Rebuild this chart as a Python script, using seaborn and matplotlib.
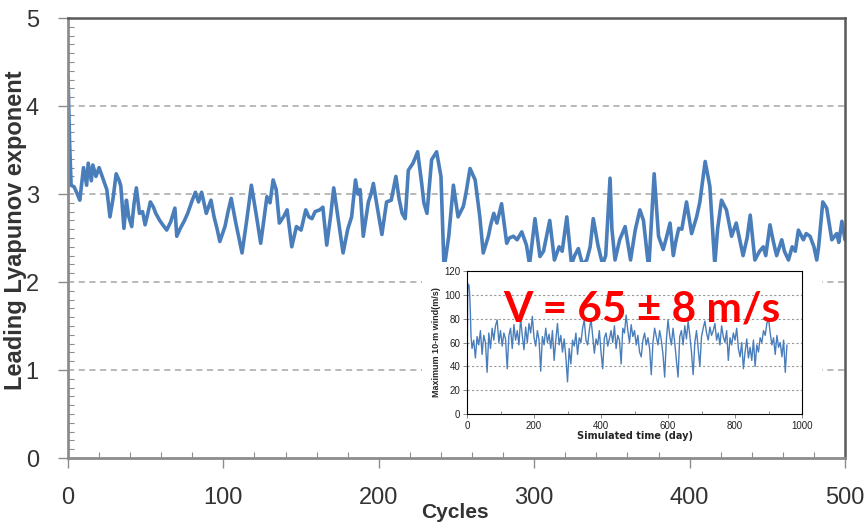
import numpy as np
import pandas as pd
import seaborn as sns
import matplotlib
matplotlib.use('Agg')
import matplotlib.pyplot as plt
from matplotlib.patches import Rectangle
from matplotlib.ticker import MultipleLocator

# main series: leading Lyapunov exponent vs cycles
cycles = [0, 1, 2, 4, 6, 7.6, 9, 10, 12, 13, 15, 16, 18, 20, 22, 25, 27, 29, 31, 33,
          34, 36, 37.6, 39, 41, 42.5, 44, 46, 48, 49.6, 51, 53, 55, 56.5, 59, 61, 63.5, 66, 68.8, 70,
          72, 75, 77, 80, 82, 84, 86, 89, 92, 94, 96, 97.7, 101, 103, 105, 108, 110, 112, 115, 118,
          121, 124, 126, 128, 130, 132, 134, 136, 139, 141, 144, 147, 150, 153, 155, 157, 159, 162, 164, 166.5,
          169, 171, 174, 177, 180, 182.5, 185, 186.5, 188, 190, 193.3, 195, 196.5, 199, 202, 205, 208, 211, 213, 215,
          217, 219, 222, 225, 227.6, 229, 231, 234, 237.2, 240, 242, 245, 248, 251, 254.4, 256, 258.7, 262, 265, 267.2,
          270.5, 272, 274, 276, 279, 282.3, 284, 286.6, 289, 292, 295, 297, 300.5, 303.7, 306, 310, 313, 316, 318, 321,
          324, 326, 328.4, 331, 333.8, 336, 338, 341, 344, 346, 348.8, 350, 352, 355, 358.5, 362, 365, 368, 370.3, 373.7,
          377.2, 380, 383, 385, 387.4, 389.5, 391, 393, 395, 398, 401.3, 404.5, 406.6, 410, 413, 416.2, 418, 420.5, 423.7, 427,
          430, 432, 434.4, 437, 439, 442, 445, 447.4, 449, 451.7, 454, 456, 459.3, 461, 463.6, 466, 468, 470, 473.2, 475,
          477.5, 480, 481.8, 483, 485.7, 488.2, 491.5, 494.7, 496, 498, 500]
lle = [4.35, 3.6, 3.1, 3.08, 3.0, 2.93, 3.15, 3.3, 3.1, 3.35, 3.15, 3.33, 3.2, 3.3, 3.2, 3.05, 2.74, 2.95, 3.23, 3.15,
       3.09, 2.61, 2.93, 2.75, 2.63, 2.89, 3.07, 2.78, 2.8, 2.65, 2.75, 2.91, 2.85, 2.78, 2.7, 2.65, 2.59, 2.68, 2.84, 2.52,
       2.6, 2.7, 2.78, 2.93, 3.02, 2.91, 3.02, 2.78, 2.93, 2.74, 2.6, 2.46, 2.63, 2.8, 2.95, 2.67, 2.5, 2.33, 2.7, 3.1,
       2.78, 2.44, 2.7, 2.97, 2.9, 3.16, 3.05, 2.67, 2.75, 2.82, 2.4, 2.63, 2.59, 2.82, 2.74, 2.72, 2.8, 2.82, 2.85, 2.42,
       2.75, 3.07, 2.7, 2.33, 2.6, 2.74, 3.16, 3.0, 3.05, 2.52, 2.91, 3.0, 3.12, 2.85, 2.54, 2.91, 2.93, 3.2, 2.95, 2.78,
       2.72, 3.27, 3.35, 3.48, 3.12, 2.9, 2.78, 3.39, 3.48, 3.2, 2.15, 2.52, 3.1, 2.74, 2.86, 3.0, 3.29, 3.16, 2.74, 2.33,
       2.52, 2.65, 2.78, 2.67, 2.89, 2.44, 2.5, 2.52, 2.48, 2.57, 2.42, 2.2, 2.72, 2.29, 2.35, 2.7, 2.25, 2.4, 2.35, 2.74,
       2.2, 2.3, 2.38, 2.2, 2.25, 2.4, 2.72, 2.42, 2.2, 2.3, 3.18, 2.6, 2.25, 2.48, 2.63, 2.25, 2.59, 2.82, 2.7, 2.15,
       3.23, 2.52, 2.37, 2.5, 2.67, 2.3, 2.45, 2.61, 2.6, 2.91, 2.55, 2.74, 2.91, 3.37, 3.09, 2.2, 2.6, 2.93, 2.82, 2.52,
       2.67, 2.5, 2.3, 2.5, 2.76, 2.25, 2.35, 2.4, 2.3, 2.65, 2.45, 2.3, 2.48, 2.35, 2.25, 2.4, 2.35, 2.59, 2.48, 2.55,
       2.52, 2.4, 2.25, 2.4, 2.91, 2.84, 2.48, 2.55, 2.45, 2.69, 2.48]

# inset series: maximum 10-m wind vs simulated time
days_start = [0, 2, 4, 6, 8, 10, 12]
wind_start = [8, 105, 109, 108, 100, 85, 65]
days_rest = list(range(15, 960, 5))
wind_rest = [55, 62, 47, 65, 58, 70, 50, 66, 60, 35,
             68, 55, 72, 62, 74, 79, 60, 70, 57, 68,
             63, 38, 66, 72, 55, 75, 62, 70, 58, 80,
             66, 54, 73, 60, 76, 68, 82, 64, 57, 70,
             62, 36, 65, 58, 72, 60, 67, 55, 70, 45,
             62, 76, 58, 66, 52, 63, 48, 27, 55, 42,
             62, 57, 68, 50, 64, 60, 72, 79, 62, 58,
             70, 80, 66, 51, 63, 58, 70, 52, 38, 64,
             68, 57, 63, 70, 60, 74, 55, 66, 62, 42,
             72, 68, 83, 70, 60, 75, 65, 70, 58, 66,
             52, 48, 62, 68, 58, 64, 55, 33, 60, 72,
             65, 58, 70, 62, 50, 31, 62, 79, 66, 58,
             72, 60, 45, 31, 65, 70, 58, 74, 63, 78,
             66, 52, 33, 60, 70, 55, 40, 65, 72, 78,
             68, 62, 73, 66, 70, 76, 62, 68, 58, 74,
             65, 60, 70, 45, 64, 58, 68, 62, 72, 55,
             48, 60, 38, 52, 63, 47, 56, 45, 62, 40,
             58, 52, 64, 60, 70, 66, 76, 80, 68, 58,
             64, 50, 66, 56, 60, 48, 62, 35, 58]
sim_days = days_start + days_rest
max_wind = wind_start + wind_rest

main_df = pd.DataFrame({'Cycles': cycles, 'lle': lle})
inset_df = pd.DataFrame({'day': sim_days, 'wind': max_wind})

sns.set_style('white')
plt.rcParams['font.family'] = ['Liberation Sans', 'DejaVu Sans']

blue = '#4a7ebb'
fig = plt.figure(figsize=(8.65, 5.27), dpi=100)

# main axes
ax = fig.add_axes([0.0786, 0.1309, 0.8983, 0.8349])
sns.lineplot(data=main_df, x='Cycles', y='lle', ax=ax, color=blue, lw=2.6,
             estimator=None, sort=False)
ax.set_xlim(0, 500)
ax.set_ylim(0, 5)
ax.xaxis.set_major_locator(MultipleLocator(100))
ax.xaxis.set_minor_locator(MultipleLocator(20))
ax.yaxis.set_major_locator(MultipleLocator(1))
ax.yaxis.set_minor_locator(MultipleLocator(0.1))
for y in [1, 2, 3, 4]:
    ax.axhline(y, color='#a6a6a6', lw=1.1, ls=(0, (4, 3)), zorder=0)
ax.tick_params(axis='both', which='major', direction='out', length=7, width=1,
               color='#8c8c8c', labelsize=17, labelcolor='#333333')
ax.tick_params(axis='x', which='major', pad=14)
ax.tick_params(axis='y', which='major', pad=14)
ax.tick_params(axis='both', which='minor', direction='in', length=4, width=0.8,
               color='#8c8c8c')
ax.tick_params(bottom=True, left=True, which='both')
for side in ['left', 'bottom']:
    ax.spines[side].set_color('#8c8c8c')
    ax.spines[side].set_linewidth(2)
for side in ['top', 'right']:
    ax.spines[side].set_color('#595959')
    ax.spines[side].set_linewidth(1.8)
ax.set_xlabel('Cycles', fontsize=15, fontweight='bold', color='#333333', va='top')
ax.xaxis.set_label_coords(0.498, -0.102)
ax.set_ylabel('Leading Lyapunov exponent', fontsize=17, fontweight='bold', color='#333333')
ax.yaxis.set_label_coords(-0.053, 0.518)

# white panel behind the inset
fig.patches.append(Rectangle((0.4879, 0.150), 0.4624, 0.353, transform=fig.transFigure,
                             facecolor='white', edgecolor='none', zorder=1))

# inset axes
axi = fig.add_axes([0.5399, 0.2144, 0.3873, 0.2713], zorder=2)
sns.lineplot(data=inset_df, x='day', y='wind', ax=axi, color=blue, lw=1.0,
             estimator=None, sort=False)
axi.set_xlim(0, 1000)
axi.set_ylim(0, 120)
axi.xaxis.set_major_locator(MultipleLocator(200))
axi.xaxis.set_minor_locator(MultipleLocator(100))
axi.yaxis.set_major_locator(MultipleLocator(20))
for y in [20, 40, 60, 80, 100]:
    axi.axhline(y, color='#999999', lw=0.8, ls=(0, (2, 2)), zorder=0)
axi.tick_params(axis='both', which='major', direction='out', length=3, width=0.6,
                color='#777777', labelsize=7, labelcolor='#222222', pad=2)
axi.tick_params(axis='x', which='minor', direction='in', length=2, width=0.6, color='#777777')
axi.tick_params(bottom=True, left=True, which='both')
for side in axi.spines.values():
    side.set_color('black')
    side.set_linewidth(0.8)
axi.set_xlabel('Simulated time (day)', fontsize=7, fontweight='bold', labelpad=0,
               family=['DejaVu Sans'])
axi.set_ylabel('Maximum 10-m wind(m/s)', fontsize=6.5, fontweight='bold', labelpad=2)

fig.text(0.5815, 0.389, 'V = 65 \u00b1 8 m/s', fontsize=30.5, fontweight='bold', color='#ff0000',
         family=['Lato', 'DejaVu Sans'], va='baseline', ha='left', zorder=5)

fig.savefig('out.png', dpi=100)
